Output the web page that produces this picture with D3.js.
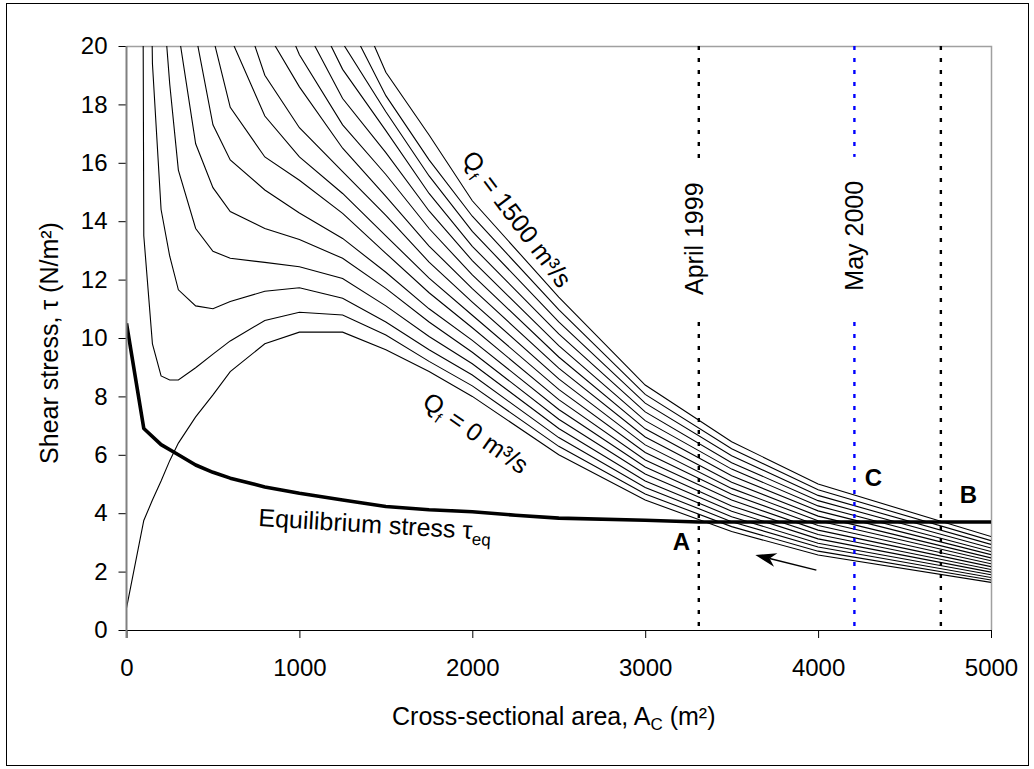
<!DOCTYPE html>
<html lang="en">
<head>
<meta charset="UTF-8">
<title>Shear stress vs cross-sectional area</title>
<script src="https://d3js.org/d3.v7.min.js"></script>
<style>
  body { margin: 0; background: #fff; }
  svg { display: block; font-family: "Liberation Sans", Arial, sans-serif; }
</style>
</head>
<body>
<div id="chart"></div>
<script>
// cross-sectional area grid (m²) shared by all discharge curves
const areas = [0, 100, 150, 200, 250, 300, 400, 500, 600, 800, 1000, 1250, 1500, 1750, 2000, 2500, 3000, 3500, 4000, 5000];

// freshwater discharge of each curve (m³/s)
const discharges = [0, 100, 200, 300, 400, 500, 600, 700, 800, 900, 1000, 1100, 1200, 1300, 1400, 1500];

// shear stress (N/m²) per discharge, one value per area; null = far off the top of the chart
const stressQ0    = [0.75, 3.75, 4.45, 5.1, 5.8, 6.4, 7.3, 8.05, 8.85, 9.8, 10.2, 10.2, 9.6, 8.85, 8.0, 6.0, 4.45, 3.37, 2.57, 1.63];
const stressQ100  = [200, 13.5, 9.8, 8.7, 8.56, 8.56, 8.98, 9.45, 9.9, 10.6, 10.88, 10.79, 10.1, 9.2, 8.36, 6.29, 4.66, 3.54, 2.70, 1.71];
const stressQ200  = [null, 40, 19.4, 14.4, 12.8, 11.65, 11.1, 11.0, 11.25, 11.6, 11.72, 11.36, 10.55, 9.6, 8.73, 6.59, 4.88, 3.71, 2.84, 1.80];
const stressQ300  = [null, null, null, 22.5, 18.7, 15.75, 13.75, 12.97, 12.73, 12.59, 12.44, 12.04, 11.1, 10.05, 9.12, 6.90, 5.10, 3.88, 2.97, 1.89];
const stressQ400  = [null, null, null, null, null, 20.5, 16.65, 15.15, 14.33, 13.75, 13.37, 12.73, 11.7, 10.55, 9.51, 7.22, 5.34, 4.07, 3.12, 1.98];
const stressQ500  = [null, null, null, null, null, null, 20.4, 17.3, 16.1, 15.07, 14.28, 13.41, 12.25, 11.0, 9.92, 7.55, 5.58, 4.25, 3.27, 2.07];
const stressQ600  = [null, null, null, null, null, null, null, 20.3, 17.9, 16.2, 15.4, 14.27, 12.9, 11.55, 10.35, 7.89, 5.82, 4.45, 3.42, 2.17];
const stressQ700  = [null, null, null, null, null, null, null, null, 20.3, 17.6, 16.2, 14.95, 13.5, 12.05, 10.78, 8.24, 6.08, 4.65, 3.58, 2.27];
const stressQ800  = [null, null, null, null, null, null, null, null, 22.5, 19.0, 17.2, 15.7, 14.2, 12.6, 11.23, 8.60, 6.34, 4.85, 3.74, 2.37];
const stressQ900  = [null, null, null, null, null, null, null, null, null, 20.6, 18.6, 16.5, 14.85, 13.15, 11.69, 8.97, 6.61, 5.06, 3.90, 2.47];
const stressQ1000 = [null, null, null, null, null, null, null, null, null, 22.5, 19.7, 17.3, 15.6, 13.75, 12.16, 9.35, 6.89, 5.28, 4.08, 2.58];
const stressQ1100 = [null, null, null, null, null, null, null, null, null, null, 21.0, 18.2, 16.35, 14.35, 12.65, 9.74, 7.17, 5.51, 4.25, 2.69];
const stressQ1200 = [null, null, null, null, null, null, null, null, null, null, 22.2, 19.2, 17.1, 14.95, 13.14, 10.14, 7.47, 5.73, 4.43, 2.81];
const stressQ1300 = [null, null, null, null, null, null, null, null, null, null, null, 20.1, 17.75, 15.55, 13.65, 10.55, 7.77, 5.97, 4.61, 2.93];
const stressQ1400 = [null, null, null, null, null, null, null, null, null, null, null, 21.2, 18.3, 16.1, 14.17, 10.97, 8.07, 6.21, 4.80, 3.06];
const stressQ1500 = [null, null, null, null, null, null, null, null, null, null, null, 22.5, 19.1, 16.95, 14.7, 11.40, 8.39, 6.45, 5.00, 3.20];
const stressCurves = [stressQ0, stressQ100, stressQ200, stressQ300, stressQ400, stressQ500, stressQ600, stressQ700,
                      stressQ800, stressQ900, stressQ1000, stressQ1100, stressQ1200, stressQ1300, stressQ1400, stressQ1500];

// equilibrium stress curve
const eqAreas  = [0, 100, 200, 300, 400, 500, 600, 800, 1000, 1250, 1500, 1750, 2000, 2250, 2500, 3000, 3310, 4000, 5000];
const eqStress = [10.5, 6.9, 6.35, 6.0, 5.65, 5.4, 5.2, 4.9, 4.68, 4.45, 4.23, 4.12, 4.05, 3.93, 3.83, 3.76, 3.7, 3.7, 3.7];

// surveyed channel areas
const surveyAreas  = [3310, 4210, 4710];
const surveyLabels = ["April 1999", "May 2000", ""];

// axis ticks
const xTicks = [0, 1000, 2000, 3000, 4000, 5000];
const yTicks = [0, 2, 4, 6, 8, 10, 12, 14, 16, 18, 20];

const W = 1034, H = 769;
const svg = d3.select("#chart").append("svg").attr("width", W).attr("height", H);
svg.append("rect").attr("width", W).attr("height", H).attr("fill", "#fff");
// outer chart frame
svg.append("rect").attr("x", 6.5).attr("y", 3.5).attr("width", 1022).attr("height", 762)
    .attr("fill", "none").attr("stroke", "#000").attr("stroke-width", 1);

const x = d3.scaleLinear().domain([0, 5000]).range([126.5, 991]);
const y = d3.scaleLinear().domain([0, 20]).range([630, 46]);

svg.append("clipPath").attr("id", "plot-clip")
  .append("rect").attr("x", x(0)).attr("y", y(20)).attr("width", x(5000) - x(0)).attr("height", y(0) - y(20));

// plot area border (top / right, grey)
svg.append("path")
    .attr("d", `M${x(0)},${y(20) + 0.5}H${x(5000) + 0.5}V${y(0)}`)
    .attr("fill", "none").attr("stroke", "#a0a0a0").attr("stroke-width", 1.5);

const plot = svg.append("g").attr("clip-path", "url(#plot-clip)");

// discharge curves
const line = d3.line()
    .defined(d => d[1] != null)
    .x(d => x(d[0]))
    .y(d => y(d[1]));

plot.append("g").selectAll("path")
  .data(stressCurves.map(vals => areas.map((a, i) => [a, vals[i]])))
  .join("path")
    .attr("d", line)
    .attr("fill", "none")
    .attr("stroke", "#000")
    .attr("stroke-width", 1.1);

// equilibrium stress (thick)
plot.append("path")
    .datum(eqAreas.map((a, i) => [a, eqStress[i]]))
    .attr("d", line)
    .attr("fill", "none")
    .attr("stroke", "#000")
    .attr("stroke-width", 3.6)
    .attr("stroke-linejoin", "round");

// survey lines
const survey = svg.append("g");
surveyAreas.forEach((a, i) => {
  survey.append("line")
    .attr("x1", x(a)).attr("x2", x(a)).attr("y1", y(20)).attr("y2", y(0))
    .attr("stroke", i === 1 ? "#0000ff" : "#000")
    .attr("stroke-width", 2.4)
    .attr("stroke-dasharray", "4,8");
});

// survey labels with white box behind, cutting the dotted line
const surveyLabelStress = [13.4, 13.5];
surveyLabels.forEach((lab, i) => {
  if (!lab) return;
  const g = svg.append("g")
    .attr("transform", `translate(${x(surveyAreas[i]) + (i === 0 ? 4 : 9)},${y(surveyLabelStress[i])}) rotate(-90)`);
  const bg = g.append("rect").attr("fill", "#fff");
  const t = g.append("text")
    .attr("text-anchor", "middle")
    .attr("font-size", 25)
    .text(lab);
  const bb = t.node().getBBox();
  bg.attr("x", bb.x - 24).attr("y", bb.y - 2).attr("width", bb.width + 48).attr("height", bb.height + 4);
});

// axes
const xAxis = svg.append("g")
    .attr("transform", `translate(0,${y(0)})`)
    .call(d3.axisBottom(x).tickValues(xTicks).tickFormat(d3.format("d"))
      .tickSize(8).tickSizeOuter(0).tickPadding(21));
xAxis.select(".domain").remove();
xAxis.selectAll("line").attr("stroke", "#000");
xAxis.selectAll("text").attr("font-size", 24).attr("font-family", null).attr("fill", "#000");
svg.append("line").attr("x1", x(0)).attr("x2", x(5000) + 1).attr("y1", y(0) + 0.5).attr("y2", y(0) + 0.5)
    .attr("stroke", "#000").attr("stroke-width", 1.2);

const yAxis = svg.append("g")
    .attr("transform", `translate(${x(0)},0)`)
    .call(d3.axisLeft(y).tickValues(yTicks).tickFormat(d3.format("d"))
      .tickSize(8).tickSizeOuter(0).tickPadding(11));
yAxis.select(".domain").remove();
yAxis.selectAll("line").attr("stroke", "#000");
yAxis.selectAll("text").attr("font-size", 24).attr("font-family", null).attr("fill", "#000");
svg.append("line").attr("x1", x(0)).attr("x2", x(0)).attr("y1", y(20)).attr("y2", y(0) + 8)
    .attr("stroke", "#808080").attr("stroke-width", 2);

// axis titles
const xTitle = svg.append("text")
    .attr("x", (x(0) + x(5000)) / 2 - 5).attr("y", 725)
    .attr("text-anchor", "middle").attr("font-size", 25);
xTitle.append("tspan").text("Cross-sectional area, A");
xTitle.append("tspan").attr("font-size", 17).attr("dy", 5).text("C");
xTitle.append("tspan").attr("dy", -5).text(" (m²)");

svg.append("text")
    .attr("transform", `translate(58,${(y(0) + y(20)) / 2 + 5}) rotate(-90)`)
    .attr("text-anchor", "middle").attr("font-size", 25)
    .text("Shear stress, τ (N/m²)");

// curve annotations
function qLabel(area, stress, angle, value) {
  const t = svg.append("text")
    .attr("transform", `translate(${x(area)},${y(stress)}) rotate(${angle})`)
    .attr("font-size", 25);
  t.append("tspan").text("Q");
  t.append("tspan").attr("font-size", 15).attr("dy", 6).text("f");
  t.append("tspan").attr("dy", -6).text(` = ${value} m³/s`);
}
qLabel(1935, 16.13, 53, discharges[discharges.length - 1]);
qLabel(1704, 7.7, 35, discharges[0]);

const eqText = svg.append("text")
    .attr("transform", `translate(${x(761)},${y(3.56)}) rotate(3.4)`)
    .attr("font-size", 25);
eqText.append("tspan").text("Equilibrium stress τ");
eqText.append("tspan").attr("font-size", 17).attr("dy", 6).text("eq");

// point letters
const pointNames  = ["A", "C", "B"];
const pointAreas  = [3210, 4320, 4870];
const pointStress = [2.75, 4.93, 4.35];
svg.append("g").selectAll("text")
  .data(pointNames)
  .join("text")
    .attr("x", (d, i) => x(pointAreas[i]))
    .attr("y", (d, i) => y(pointStress[i]))
    .attr("text-anchor", "middle")
    .attr("font-size", 24)
    .attr("font-weight", "bold")
    .text(d => d);

// arrow showing the direction of channel change
const tail = [x(3990), y(2.05)], tip = [x(3637), y(2.57)];
const ang = Math.atan2(tip[1] - tail[1], tip[0] - tail[0]);
const headLen = 21, headW = 7;
const base = [tip[0] - headLen * Math.cos(ang), tip[1] - headLen * Math.sin(ang)];
const notch = [tip[0] - headLen * 0.7 * Math.cos(ang), tip[1] - headLen * 0.7 * Math.sin(ang)];
svg.append("line")
    .attr("x1", tail[0]).attr("y1", tail[1]).attr("x2", notch[0]).attr("y2", notch[1])
    .attr("stroke", "#000").attr("stroke-width", 1.5);
svg.append("path")
    .attr("d", d3.line()([
      tip,
      [base[0] + headW * Math.sin(ang), base[1] - headW * Math.cos(ang)],
      notch,
      [base[0] - headW * Math.sin(ang), base[1] + headW * Math.cos(ang)]
    ]) + "Z")
    .attr("fill", "#000");
</script>
</body>
</html>
